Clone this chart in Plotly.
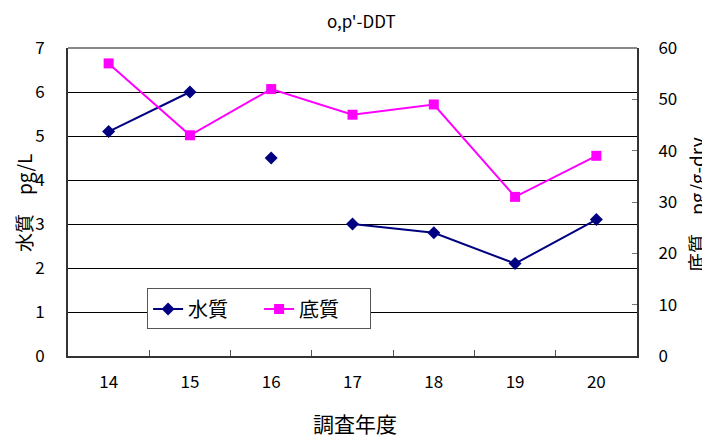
import plotly.graph_objects as go

years = ["14", "15", "16", "17", "18", "19", "20"]
water = [5.1, 6.0, 4.5, 3.0, 2.8, 2.1, 3.1]
sediment = [57, 43, 52, 47, 49, 31, 39]
# the water line is broken on both sides of year 16
water_breaks_after = ["15", "16"]

left_ticks = [0, 1, 2, 3, 4, 5, 6, 7]
right_ticks = [0, 10, 20, 30, 40, 50, 60]

FONT = "Noto Sans CJK JP, Liberation Sans, sans-serif"

# build water x/y with gaps
wx, wy = [], []
for y, v in zip(years, water):
    wx.append(y)
    wy.append(v)
    if y in water_breaks_after:
        wx.append(None)
        wy.append(None)

fig = go.Figure()
fig.add_trace(go.Scatter(
    x=wx, y=wy, name="水質", mode="lines+markers",
    line=dict(color="#000080", width=2),
    marker=dict(symbol="diamond", size=10, color="#000080"),
    connectgaps=False,
))
fig.add_trace(go.Scatter(
    x=years, y=sediment, name="底質", mode="lines+markers", yaxis="y2",
    line=dict(color="#FF00FF", width=2),
    marker=dict(symbol="square", size=10, color="#FF00FF"),
))

# page body has an 8px margin, so the figure is 702x431 and offsets are reduced by 8
fig.update_layout(
    width=702, height=431,
    margin=dict(l=60, r=73, t=40, b=83, autoexpand=False),
    paper_bgcolor="white", plot_bgcolor="white",
    font=dict(family=FONT, size=16, color="black"),
    showlegend=True,
    legend=dict(
        orientation="h", x=0.139, y=0.153, xanchor="left", yanchor="middle",
        bgcolor="white", bordercolor="#555555", borderwidth=1,
        font=dict(size=20, family=FONT), entrywidth=66,
    ),
    xaxis=dict(
        type="category", categoryorder="array", categoryarray=years,
        range=[-0.5, 6.5], automargin=False,
        showline=True, linecolor="#333333", linewidth=2,
        ticks="inside", tickson="boundaries", ticklen=6, tickcolor="#555555",
        showgrid=False, zeroline=False,
        tickfont=dict(size=17), ticklabelstandoff=10,
    ),
    yaxis=dict(
        range=[0, 7], tickvals=left_ticks, automargin=False,
        showline=True, linecolor="#333333", linewidth=2,
        showgrid=True, gridcolor="black", gridwidth=1,
        zeroline=False, ticks="", tickfont=dict(size=17),
        ticklabelstandoff=18,
    ),
    yaxis2=dict(
        range=[0, 60], tickvals=right_ticks, overlaying="y", side="right",
        automargin=False,
        showline=True, linecolor="#333333", linewidth=2,
        showgrid=False, zeroline=False,
        ticks="inside", ticklen=5, tickcolor="#777777",
        tickfont=dict(size=17), ticklabelstandoff=16,
    ),
    shapes=[dict(type="line", xref="paper", yref="paper", x0=0, x1=1, y0=1, y1=1,
                 line=dict(color="#888888", width=2))],
    annotations=[
        dict(text="o,p'-DDT", xref="paper", yref="paper", x=0.515, y=1.0,
             yanchor="middle", yshift=28, showarrow=False,
             font=dict(size=17, family=FONT)),
        dict(text="水質　pg/L", xref="paper", yref="paper", x=0, y=0.497,
             xanchor="center", yanchor="middle", showarrow=False, textangle=-90,
             font=dict(size=19, family=FONT), xshift=-44),
        dict(text="底質　pg/g-dry", xref="paper", yref="paper", x=1.0, y=0.49,
             xanchor="center", yanchor="middle", showarrow=False, textangle=-90,
             font=dict(size=19, family=FONT), xshift=59),
        dict(text="調査年度", xref="paper", yref="paper", x=0.505, y=0,
             yanchor="middle", yshift=-67, showarrow=False,
             font=dict(size=21, family=FONT)),
    ],
)

fig.write_html("out.html")
